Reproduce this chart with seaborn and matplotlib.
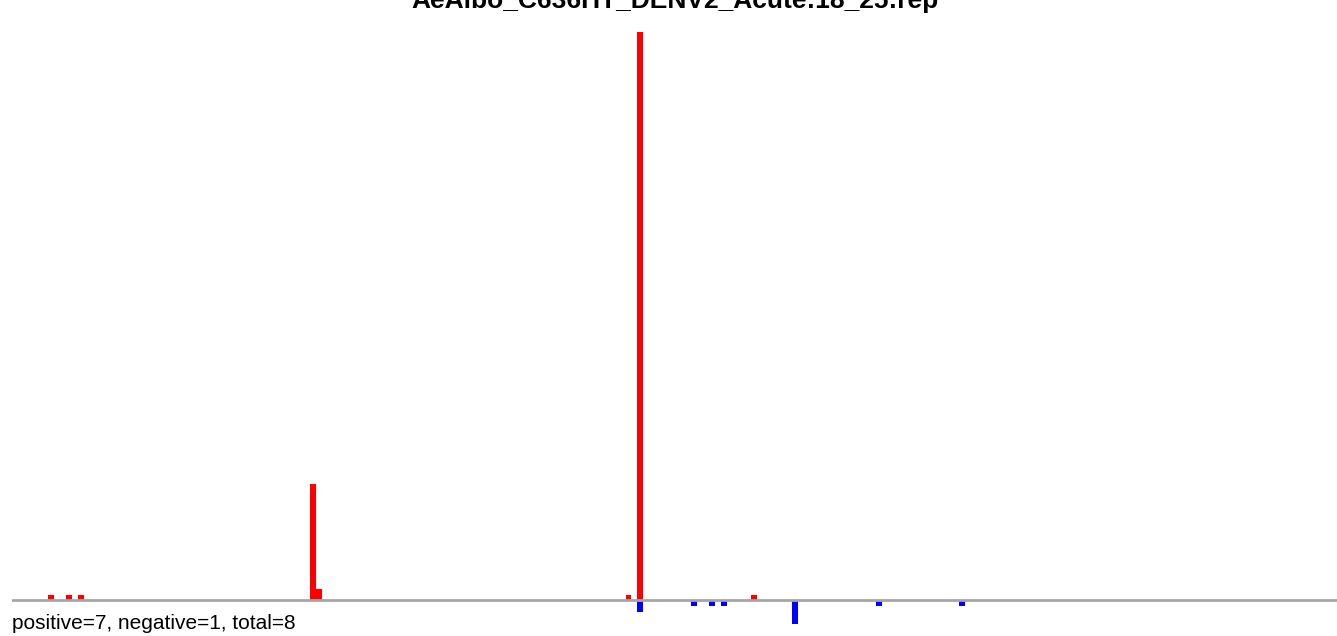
import numpy as np
import pandas as pd
import matplotlib
matplotlib.use("Agg")
import matplotlib.pyplot as plt
import seaborn as sns

title = "AeAlbo_C636HT_DENV2_Acute:18_25:rep"
footer = "positive=7, negative=1, total=8"

# bin index along the read and counts
pos_idx = [6, 9, 11, 50, 51, 103, 105, 124]
pos_val = [1, 1, 1, 20, 2, 1, 98, 1]
neg_idx = [105, 114, 117, 119, 131, 145, 159]
neg_val = [2, 1, 1, 1, 4, 1, 1]
n_bins = 223

pos_df = pd.DataFrame({"x": np.array(pos_idx) + 0.5, "w": pos_val})
neg_df = pd.DataFrame({"x": np.array(neg_idx) + 0.5, "w": -np.array(neg_val)})

sns.set_theme(style="white")
plt.rcParams["font.family"] = ["Liberation Sans", "DejaVu Sans"]
plt.rcParams["text.color"] = "black"

fig = plt.figure(figsize=(13.37, 6.36), dpi=100)
left = 12.3 / 1337
ax = fig.add_axes([left, 0, 1 - left, 1 - 32 / 636])

sns.histplot(data=pos_df, x="x", weights="w", binwidth=1, binrange=(0, n_bins),
             color="#ff0000", alpha=1, linewidth=0, ax=ax)
sns.histplot(data=neg_df, x="x", weights="w", binwidth=1, binrange=(0, n_bins),
             color="#0000ff", alpha=1, linewidth=0, ax=ax)

ax.axhline(0, color="#a6a6a6", lw=2, zorder=5)
ax.set_xlim(0, 222.5)
ax.set_ylim(-(636 - 600.5) / 5.8, 98)
ax.axis("off")

fig.text(675 / 1337, 1 - 8 / 636, title, ha="center", va="baseline",
         fontsize=19, fontweight="bold", color="black")
fig.text(12 / 1337, 1 - 629 / 636, footer, ha="left", va="baseline",
         fontsize=15, color="black")

fig.savefig("out.png", dpi=100)
